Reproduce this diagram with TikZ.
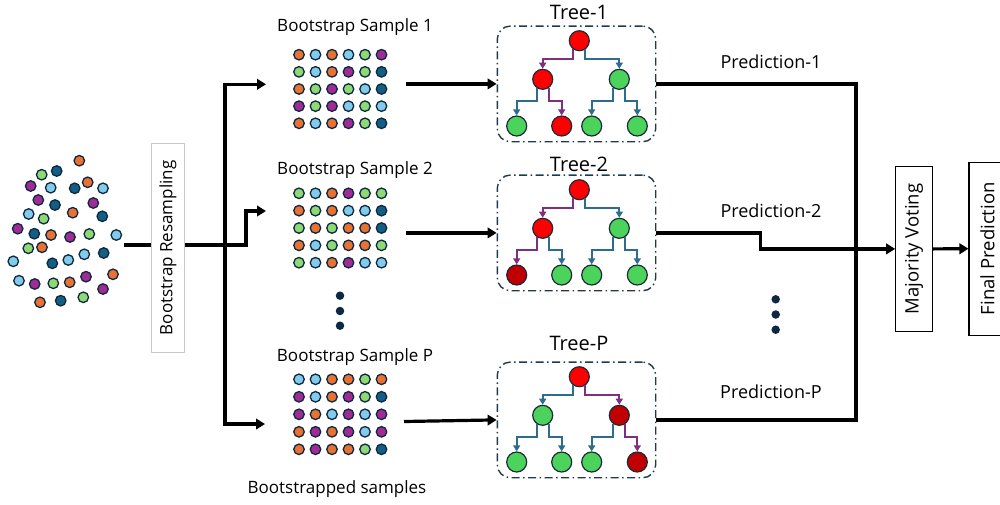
\documentclass[tikz,border=0pt]{standalone}
\usepackage{fontspec}
\setmainfont{Open Sans}
\usetikzlibrary{arrows.meta}

% sample dot colours
\definecolor{dotO}{HTML}{E97132}
\definecolor{dotL}{HTML}{83CBEB}
\definecolor{dotG}{HTML}{8ED973}
\definecolor{dotP}{HTML}{A02B93}
\definecolor{dotD}{HTML}{135E83}
\definecolor{dotline}{HTML}{0E2841}
% tree colours
\definecolor{nodeR}{HTML}{FF0000}
\definecolor{nodeD}{HTML}{C00000}
\definecolor{nodeG}{HTML}{4CD35C}
\definecolor{treeline}{HTML}{1B2A3A}
\definecolor{edgeP}{HTML}{7F2F80}
\definecolor{edgeB}{HTML}{2E6C8E}
\definecolor{boxline}{HTML}{1F3A4A}

% three internal nodes and four leaves of one tree
% #1 prefix, #2 vertical offset, #3 root, #4 left, #5 right, #6-#9 leaves
\newcommand\treenodes[9]{%
  \node[tn,fill=node#3] (#1r)  at (579.3,40.7+#2) {};
  \node[tn,fill=node#4] (#1a)  at (542.7,79.3+#2) {};
  \node[tn,fill=node#5] (#1b)  at (619.3,79.3+#2) {};
  \node[tn,fill=node#6] (#1aa) at (516.7,126+#2) {};
  \node[tn,fill=node#7] (#1ab) at (561.7,126+#2) {};
  \node[tn,fill=node#8] (#1ba) at (591.7,126+#2) {};
  \node[tn,fill=node#9] (#1bb) at (637.3,126+#2) {};
}
% elbow edges: #1 prefix, then edge colours root-left, root-right, a-left, a-right, b-left, b-right
\newcommand\treeedges[7]{%
  \draw[tedge,edge#2] (#1r.-125) -- ++(0,9.6)  -| (#1a.north);
  \draw[tedge,edge#3] (#1r.-55)  -- ++(0,9.6)  -| (#1b.north);
  \draw[tedge,edge#4] (#1a.-125) -- ++(0,13.2) -| (#1aa.north);
  \draw[tedge,edge#5] (#1a.-55)  -- ++(0,13.2) -| (#1ab.north);
  \draw[tedge,edge#6] (#1b.-125) -- ++(0,13.2) -| (#1ba.north);
  \draw[tedge,edge#7] (#1b.-55)  -- ++(0,13.2) -| (#1bb.north);
}

\begin{document}
\begin{tikzpicture}[x=1pt,y=-1pt,
  dot/.style={circle,draw=dotline,line width=1.3pt,minimum size=10.5pt,inner sep=0pt},
  tn/.style={circle,draw=treeline,line width=1.2pt,minimum size=20pt,inner sep=0pt},
  tedge/.style={line width=1.8pt,-{Triangle[length=6pt,width=7pt]}},
  tbox/.style={draw=boxline,line width=1.4pt,rounded corners=13pt,
    dash pattern=on 8pt off 3.5pt on 1.5pt off 3.5pt,minimum width=158.4pt,minimum height=115.7pt,inner sep=0pt},
  wire/.style={line width=3.2pt},
  conn/.style={line width=3.2pt,-{Triangle[length=9pt,width=10.5pt]}},
  smalllbl/.style={font=\fontsize{17}{19}\selectfont},
  predlbl/.style={font=\fontsize{18}{20}\selectfont},
  treelbl/.style={font=\fontsize{20}{22}\selectfont},
  vbox/.style={rotate=90,draw,line width=1.1pt,inner sep=0pt,font=\fontsize{18.5}{21}\selectfont},
  ell/.style={circle,fill=dotline,inner sep=0pt,minimum size=8.5pt},
]
\useasboundingbox (0,0) rectangle (1000,504);

% ---- original data set ----
\foreach \x/\y/\c [count=\i] in {
  79.3/160.7/O, 41.7/174.7/G, 56.7/171/D, 30.7/186/P, 50.7/187.7/L, 74.7/188.3/D,
  87.7/182.3/O, 103/188.3/L, 38.3/200/P, 55/205/D, 93.3/203/P, 28.7/214/L,
  43.7/218.7/G, 72.7/212.7/O, 102.3/216.3/D, 17.7/228.7/P, 34.3/233.7/D, 51/235/O,
  70/237/P, 89.3/234/G, 116.3/235/L, 28.3/248.3/G, 42/247.3/O, 13.3/261.3/L,
  52.3/263.3/D, 68.3/260/L, 84.3/254.3/L, 103.7/253/D, 19/280.7/L, 34.7/284/P,
  53.3/283.3/G, 69.7/282.3/O, 86/276.7/P, 113/274.3/O, 103/289/P, 40/302.3/O,
  60.7/300.7/D, 83.3/297.3/G}
  \node[dot,fill=dot\c] (s\i) at (\x,\y) {};

% ---- resampling (rotated: north faces left, south faces right) ----
\node[rotate=90,draw=black!22,line width=0.9pt,minimum width=209pt,minimum height=32.6pt,
  inner sep=0pt,font=\fontsize{17}{19}\selectfont] (rs) at (168,247.8) {Bootstrap Resampling};
\coordinate (src) at (124,245);
\coordinate (j) at (225,245);
\draw[wire] (src) -- (src -| rs.north);
\draw[wire] (rs.south |- j) -- (j);

% ---- bootstrap samples ----
\foreach \row [count=\r] in {{O,L,O,L,G,P},{G,L,O,P,G,D},{O,G,P,G,L,D},{P,G,P,L,G,L},{O,L,O,P,G,D}}
  \foreach \c [count=\k] in \row
    \node[dot,fill=dot\c] (ga\r\k) at (299+16.5*\k-16.5,54.7+17.15*\r-17.15) {};
\foreach \row [count=\r] in {{G,L,O,P,G,G},{O,G,O,L,L,D},{G,O,G,O,O,D},{O,L,G,O,O,G},{G,L,O,P,L,L}}
  \foreach \c [count=\k] in \row
    \node[dot,fill=dot\c] (gb\r\k) at (299+16.5*\k-16.5,193.3+17.35*\r-17.35) {};
\foreach \row [count=\r] in {{L,L,O,O,G,O},{P,L,O,P,G,D},{P,O,L,P,L,P},{O,P,O,P,L,P},{O,P,O,O,G,D}}
  \foreach \c [count=\k] in \row
    \node[dot,fill=dot\c] (gp\r\k) at (299+16.5*\k-16.5,379.3+17.5*\r-17.5) {};

\node[smalllbl] (la) at (355,27) {Bootstrap Sample 1};
\node[smalllbl] (lb) at (355,170) {Bootstrap Sample 2};
\node[smalllbl] (lp) at (355,357) {Bootstrap Sample P};
\node[smalllbl] (lbs) at (337,489) {Bootstrapped samples};
\node[ell] (e1) at (340,295.7) {};
\node[ell] (e2) at (340,311) {};
\node[ell] (e3) at (340,325.7) {};

\coordinate (ia) at (266,84.3);
\coordinate (ib) at (266,211);
\coordinate (ip) at (265,424);
\draw[conn] (j) |- (ia);
\draw[conn] (j) -- ++(21,0) |- (ib);
\draw[conn] (j) |- (ip);

% ---- trees ----
\node[tbox] (ta) at (576.5,83.9) {};
\node[tbox] (tb) at (576.5,232.9) {};
\node[tbox] (tp) at (576.5,419.9) {};
\node[treelbl] (na) at (579,12) {Tree-1};
\node[treelbl] (nb) at (579,164) {Tree-2};
\node[treelbl] (np) at (579,343) {Tree-P};

\treenodes{A}{0}{R}{R}{G}{G}{R}{G}{G}
\treeedges{A}{P}{B}{B}{P}{B}{B}
\treenodes{B}{149}{R}{R}{G}{D}{G}{G}{G}
\treeedges{B}{P}{B}{P}{B}{B}{B}
\treenodes{C}{336}{R}{G}{D}{G}{G}{G}{D}
\treeedges{C}{B}{P}{B}{B}{B}{P}

\coordinate (oa) at (406,83.9);
\coordinate (ob) at (406,232.9);
\coordinate (op) at (404,421.5);
\draw[conn] (oa) -- (ta.west);
\draw[conn] (ob) -- (tb.west);
\draw[conn] (op) -- (tp.west);

% ---- predictions and voting ----
\node[predlbl] (pa) at (771,62) {Prediction-1};
\node[predlbl] (pb) at (771,211) {Prediction-2};
\node[predlbl] (pp) at (771,392) {Prediction-P};
\node[ell] (f1) at (775.7,299.3) {};
\node[ell] (f2) at (775.7,314.5) {};
\node[ell] (f3) at (775.7,329.7) {};

\node[vbox,minimum width=165.7pt,minimum height=36.6pt] (mv) at (914,248.9) {Majority Voting};
\node[vbox,minimum width=172.7pt,minimum height=37pt] (fp) at (987.5,248.7) {Final Prediction};

\coordinate (vb) at (856,419.9);
\draw[wire] (ta.east) -| (vb) -- (tp.east);
\draw[conn] (tb.east) -- ++(104,0) |- (mv.north);
\draw[conn] (mv.south) -- (fp.north);
\end{tikzpicture}
\end{document}
